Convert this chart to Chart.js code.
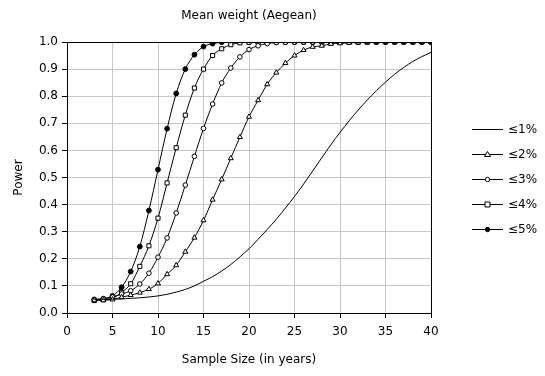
<!DOCTYPE html>
<html>
<head>
<meta charset="utf-8">
<script src="https://cdn.jsdelivr.net/npm/chart.js@4"></script>
<style>
  html, body { margin: 0; padding: 0; background: #fff; }
  #wrap { width: 545px; height: 376px; }
</style>
</head>
<body>
<div id="wrap"><canvas id="myChart" width="545" height="376"></canvas></div>
<script>
// Sample sizes (years)
var sampleSizes = [3, 4, 5, 6, 7, 8, 9, 10, 11, 12, 13, 14, 15, 16, 17, 18, 19, 20, 21, 22,
  23, 24, 25, 26, 27, 28, 29, 30, 31, 32, 33, 34, 35, 36, 37, 38, 39, 40];

// Power for each detectable change
var power1 = [0.05, 0.05, 0.051, 0.052, 0.054, 0.056, 0.059, 0.063, 0.069, 0.077, 0.087, 0.10,
  0.117, 0.134, 0.155, 0.179, 0.207, 0.237, 0.272, 0.308, 0.346, 0.387, 0.43, 0.476, 0.524,
  0.573, 0.621, 0.666, 0.709, 0.749, 0.786, 0.82, 0.852, 0.881, 0.906, 0.928, 0.946, 0.962];
var power2 = [0.047, 0.047, 0.05, 0.058, 0.066, 0.075, 0.088, 0.109, 0.143, 0.176, 0.226, 0.278,
  0.342, 0.418, 0.493, 0.571, 0.649, 0.724, 0.785, 0.844, 0.887, 0.922, 0.95, 0.97, 0.982,
  0.986, 0.993, 0.995, 0.997, 0.998, 0.999, 1, 1, 1, 1, 1, 1, 1];
var power3 = [0.049, 0.052, 0.059, 0.07, 0.082, 0.107, 0.147, 0.206, 0.277, 0.369, 0.472, 0.578,
  0.681, 0.771, 0.849, 0.904, 0.945, 0.972, 0.986, 0.994, 0.998, 0.999, 1, 1, 1, 1, 1, 1, 1,
  1, 1, 1, 1, 1, 1, 1, 1, 1];
var power4 = [0.046, 0.049, 0.055, 0.076, 0.108, 0.172, 0.248, 0.35, 0.48, 0.61, 0.73, 0.83,
  0.90, 0.95, 0.975, 0.99, 0.997, 0.999, 1, 1, 1, 1, 1, 1, 1, 1, 1, 1, 1, 1, 1, 1, 1, 1, 1,
  1, 1, 1];
var power5 = [0.05, 0.053, 0.063, 0.095, 0.153, 0.245, 0.378, 0.529, 0.68, 0.81, 0.90, 0.953,
  0.983, 0.994, 0.999, 1, 1, 1, 1, 1, 1, 1, 1, 1, 1, 1, 1, 1, 1, 1, 1, 1, 1, 1, 1, 1, 1, 1];

var seriesLabels = ['≤1%', '≤2%', '≤3%', '≤4%', '≤5%'];
var xTicks = [0, 5, 10, 15, 20, 25, 30, 35, 40];

var FONT = 'DejaVu Sans';

function points(values) {
  return sampleSizes.map(function (x, i) { return { x: x, y: values[i] }; });
}

function series(label, values, style, fill, radius) {
  return {
    label: label,
    data: points(values),
    borderColor: '#000',
    borderWidth: 1,
    pointStyle: style,
    pointRadius: radius,
    pointBackgroundColor: fill,
    pointBorderColor: '#000',
    pointBorderWidth: 1,
    cubicInterpolationMode: 'monotone',
    fill: false,
  };
}

var datasets = [
  series(seriesLabels[0], power1, 'circle', '#fff', 0),
  series(seriesLabels[1], power2, 'triangle', '#fff', 2.9),
  series(seriesLabels[2], power3, 'circle', '#fff', 2.3),
  series(seriesLabels[3], power4, 'rect', '#fff', 2.9),
  series(seriesLabels[4], power5, 'circle', '#000', 2.4),
];

// Frame around the plot area and legend at the right
var framePlugin = {
  id: 'frame',
  afterDraw: function (chart) {
    var ctx = chart.ctx;
    var a = chart.chartArea;
    ctx.save();
    ctx.strokeStyle = '#000';
    ctx.lineWidth = 1;
    ctx.strokeRect(Math.round(a.left) + 0.5, Math.round(a.top) + 0.5,
      Math.round(a.right - a.left), Math.round(a.bottom - a.top));

    // legend
    var x0 = 472, x1 = 503, y = 129;
    ctx.font = '12px "' + FONT + '"';
    ctx.textBaseline = 'middle';
    ctx.fillStyle = '#000';
    chart.data.datasets.forEach(function (ds, i) {
      var yy = y + i * 25 + 0.5;
      ctx.beginPath();
      ctx.moveTo(x0, yy);
      ctx.lineTo(x1, yy);
      ctx.stroke();
      if (ds.pointRadius > 0) {
        var cx = (x0 + x1) / 2;
        ctx.fillStyle = ds.pointBackgroundColor;
        ctx.beginPath();
        if (ds.pointStyle === 'triangle') {
          ctx.moveTo(cx, yy - 3);
          ctx.lineTo(cx + 3, yy + 2);
          ctx.lineTo(cx - 3, yy + 2);
          ctx.closePath();
        } else if (ds.pointStyle === 'rect') {
          ctx.rect(cx - 2.5, yy - 2.5, 5, 5);
        } else {
          ctx.arc(cx, yy, 2.2, 0, Math.PI * 2);
        }
        ctx.fill();
        ctx.stroke();
      }
      ctx.fillStyle = '#000';
      ctx.fillText(ds.label, 508, yy);
    });
    ctx.restore();
  }
};

var ctx = document.getElementById('myChart').getContext('2d');

var myChart = new Chart(ctx, {
  type: 'line',
  data: { datasets: datasets },
  options: {
    responsive: false,
    animation: false,
    layout: { padding: { left: 0, right: 114, top: 0, bottom: 0 } },
    plugins: {
      legend: { display: false },
      tooltip: { enabled: false },
      title: {
        display: true,
        text: 'Mean weight (Aegean)',
        color: '#000',
        fullSize: false,
        font: { family: FONT, size: 12, weight: 'normal' },
        padding: { top: 9, bottom: 18.6 },
      },
    },
    scales: {
      x: {
        type: 'linear',
        min: 0,
        max: 40,
        afterFit: function (scale) { scale.height = 63; },
        afterBuildTicks: function (scale) {
          scale.ticks = xTicks.map(function (v) { return { value: v }; });
        },
        grid: { color: '#c8c8c8', tickColor: '#000', tickLength: 5, lineWidth: 1 },
        border: { color: '#000', width: 1 },
        ticks: { color: '#000', padding: 7, maxRotation: 0, font: { family: FONT, size: 12 } },
        title: {
          display: true,
          text: 'Sample Size (in years)',
          color: '#000',
          font: { family: FONT, size: 12 },
          padding: { top: 4, bottom: 9 },
        },
      },
      y: {
        min: 0,
        max: 1,
        afterFit: function (scale) { scale.width = 67; },
        grid: { color: '#c8c8c8', tickColor: '#000', tickLength: 5, lineWidth: 1 },
        border: { color: '#000', width: 1 },
        ticks: {
          stepSize: 0.1,
          color: '#000',
          padding: 4,
          font: { family: FONT, size: 12 },
          callback: function (v) { return v.toFixed(1); },
        },
        title: {
          display: true,
          text: 'Power',
          color: '#000',
          font: { family: FONT, size: 12 },
          padding: { top: 12, bottom: 0 },
        },
      },
    },
  },
  plugins: [framePlugin],
});
</script>
</body>
</html>
